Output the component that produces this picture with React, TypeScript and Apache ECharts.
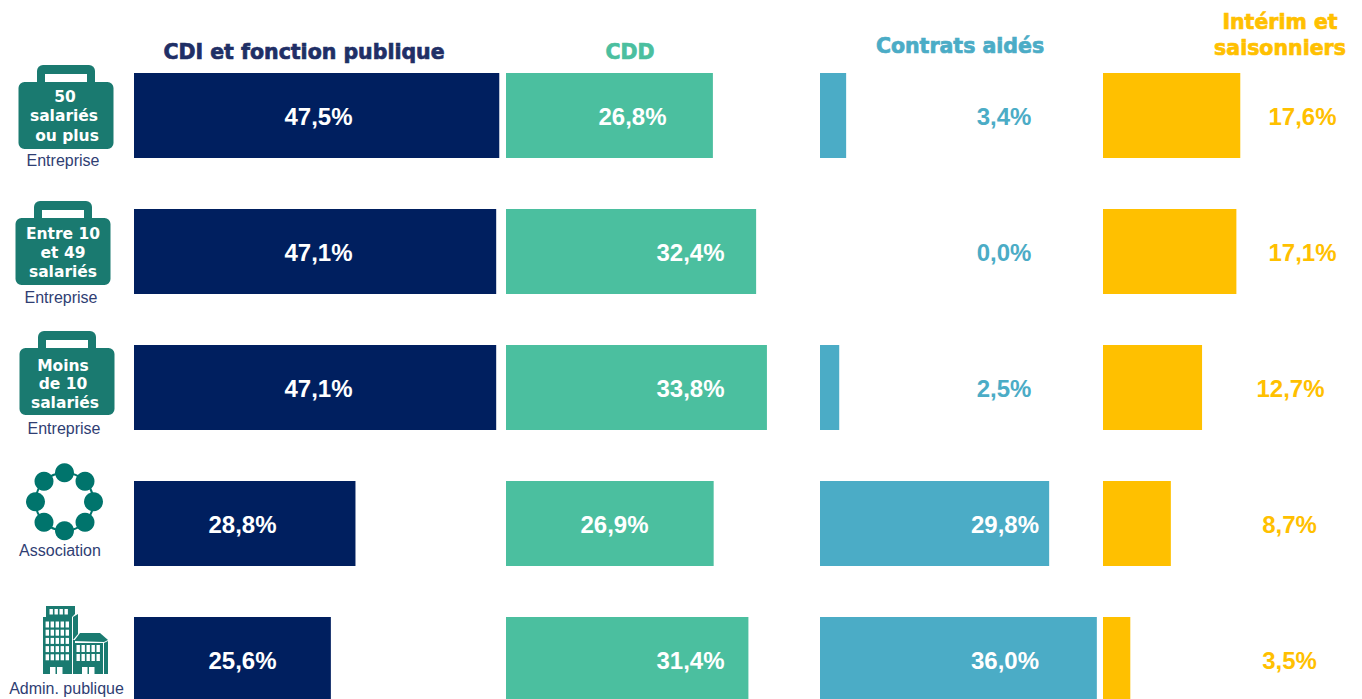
import React, { useEffect, useRef } from "react";
import * as echarts from "echarts";

const categories = ["50 salariés ou plus", "Entre 10 et 49 salariés", "Moins de 10 salariés", "Association", "Admin. publique"];
const cdi = [47.5, 47.1, 47.1, 28.8, 25.6];
const cdd = [26.8, 32.4, 33.8, 26.9, 31.4];
const aides = [3.4, 0.0, 2.5, 29.8, 36.0];
const interim = [17.6, 17.1, 12.7, 8.7, 3.5];

const NAVY = "#001F5F";
const GREEN = "#4BBF9F";
const BLUE = "#4BACC6";
const GOLD = "#FFC000";
const TEAL = "#1A7A70";
const TEAL2 = "#00746C";
const INK = "#2F3E73";
const W = "#fff";

const panels = [
  { name: "CDI", values: cdi, color: NAVY, left: 134, span: 365, scale: 7.69, labelColors: [W, W, W, W, W], centres: [318.5, 318.5, 318.5, 242.5, 242.5] },
  { name: "CDD", values: cdd, color: GREEN, left: 506, span: 300, scale: 7.72, labelColors: [W, W, W, W, W], centres: [632.5, 690.5, 690.5, 614.5, 690.5] },
  { name: "Contrats aidés", values: aides, color: BLUE, left: 820, span: 280, scale: 7.69, labelColors: [BLUE, BLUE, BLUE, W, W], centres: [1004, 1004, 1004, 1005, 1005] },
  { name: "Intérim", values: interim, color: GOLD, left: 1103, span: 250, scale: 7.8, labelColors: [GOLD, GOLD, GOLD, GOLD, GOLD], centres: [1302.5, 1302.5, 1290.5, 1289.5, 1289.5] },
];
const fmt = (v: number) => v.toFixed(1).replace(".", ",") + "%";

const heading = (text: string, x: number, y: number, fill: string, size = 20.5) => ({
  type: "text", x, y,
  style: { text, fill, stroke: fill, lineWidth: 0.7, font: `bold ${size}px "DejaVu Sans"`, align: "center", verticalAlign: "middle" },
});
const caption = (text: string, x: number, y: number) => ({
  type: "text", x, y,
  style: { text, fill: INK, font: `16px "Liberation Sans"`, align: "center", verticalAlign: "middle" },
});
const inIcon = (text: string, x: number, y: number) => ({
  type: "text", x, y,
  style: { text, fill: W, font: `bold 15.5px "DejaVu Sans"`, align: "center", verticalAlign: "middle" },
});

const suitcase = (x: number, y: number) => [
  { type: "rect", shape: { x: x + 18.5, y, width: 58, height: 30, r: 6 }, style: { fill: TEAL } },
  { type: "rect", shape: { x: x + 26.5, y: y + 9, width: 42, height: 12 }, style: { fill: W } },
  { type: "rect", shape: { x, y: y + 17, width: 95, height: 67, r: 6 }, style: { fill: TEAL } },
];

function ringIcon(cx: number, cy: number) {
  const els: any[] = [{ type: "circle", shape: { cx, cy, r: 29 }, style: { fill: "none", stroke: TEAL2, lineWidth: 2 } }];
  for (let i = 0; i < 8; i++) {
    const a = (i * Math.PI) / 4;
    els.push({ type: "circle", shape: { cx: cx + 29 * Math.cos(a), cy: cy + 29 * Math.sin(a), r: 9.5 }, style: { fill: TEAL2 } });
  }
  return els;
}

function buildingIcon() {
  const rect = (x: number, y: number, width: number, height: number, fill = W) => ({ type: "rect", shape: { x, y, width, height }, style: { fill } });
  const poly = (points: number[][], fill = TEAL) => ({ type: "polygon", shape: { points }, style: { fill } });
  const els: any[] = [
    rect(46, 606, 26, 11.5, TEAL),
    poly([[72, 606], [75, 606], [75, 614], [72, 617]]),
    rect(43, 617, 29, 57, TEAL),
    poly([[73, 617], [78, 614], [78, 634], [73, 640]]),
    rect(73, 640, 2, 34, TEAL),
    poly([[74, 641], [80, 633], [100, 633], [108, 640], [104, 642]]),
    rect(75, 643, 28, 31, TEAL),
    poly([[104, 643], [108, 641], [108, 674], [104, 674]]),
  ];
  for (let c = 0; c < 4; c++) els.push(rect(49.5 + c * 5, 609, 3.4, 5.5));
  for (let r = 0; r < 5; r++) for (let c = 0; c < 5; c++) {
    els.push(rect(45.6 + c * 5, 621.5 + r * 8.2, 3.4, 6));
  }
  for (let r = 0; r < 2; r++) for (let c = 0; c < 5; c++) {
    els.push(rect(76.5 + c * 5, 645 + r * 9, 3.4, 7));
  }
  [50, 82].forEach((x) => {
    els.push(rect(x, 667, 5.5, 7));
    els.push(rect(x + 7, 667, 5.5, 7));
  });
  return els;
}

export default function App() {
  const ref = useRef<HTMLDivElement>(null);
  useEffect(() => {
    const chart = echarts.init(ref.current!, undefined, { renderer: "svg" });
    chart.setOption({
      animation: false,
      backgroundColor: "#fff",
      grid: panels.map((p) => ({ left: p.left, top: 47.5, width: p.span, height: 680, outerBoundsMode: "none" })),
      xAxis: panels.map((p, i) => ({ type: "value", gridIndex: i, min: 0, max: p.span / p.scale, show: false })),
      yAxis: panels.map((_, i) => ({ type: "category", gridIndex: i, inverse: true, data: categories, show: false })),
      series: panels.map((p, i) => ({
        type: "bar",
        name: p.name,
        xAxisIndex: i,
        yAxisIndex: i,
        barWidth: 85,
        clip: false,
        itemStyle: { color: p.color },
        data: p.values.map((v, j) => ({
          value: v,
          label: {
            show: true,
            position: [p.centres[j] - p.left, 43.5],
            align: "center",
            verticalAlign: "middle",
            formatter: fmt(v),
            color: p.labelColors[j],
            fontFamily: "Liberation Sans",
            fontWeight: "bold",
            fontSize: 24,
          },
        })),
      })),
      graphic: [
        heading("CDI et fonction publique", 304, 52, "#1F2F66"),
        heading("CDD", 630, 52, GREEN),
        heading("Contrats aidés", 960, 46, BLUE),
        heading("Intérim et", 1280, 22, GOLD),
        heading("saisonniers", 1280, 48, GOLD),
        ...suitcase(18.5, 65),
        inIcon("50", 65, 97), inIcon("salariés", 64, 116), inIcon("ou plus", 67, 136),
        caption("Entreprise", 63, 160),
        ...suitcase(15.5, 201),
        inIcon("Entre 10", 63, 234), inIcon("et 49", 63, 253), inIcon("salariés", 63, 272),
        caption("Entreprise", 61, 297),
        ...suitcase(19.5, 331),
        inIcon("Moins", 63, 366), inIcon("de 10", 63, 384), inIcon("salariés", 65, 403),
        caption("Entreprise", 64, 428),
        ...ringIcon(64.5, 501.7),
        caption("Association", 60, 550),
        ...buildingIcon(),
        caption("Admin. publique", 66.5, 688),
      ],
    });
    return () => chart.dispose();
  }, []);
  return <div ref={ref} style={{ position: "fixed", left: 0, top: 0, width: 1362, height: 699 }} />;
}
